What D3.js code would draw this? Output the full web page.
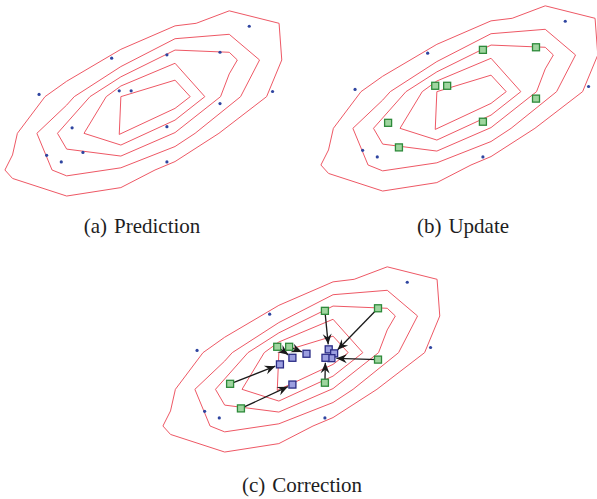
<!DOCTYPE html>
<html>
<head>
<meta charset="utf-8">
<script src="https://cdn.jsdelivr.net/npm/d3@7"></script>
<style>
  html, body { margin: 0; padding: 0; background: #fff; }
  svg { display: block; }
</style>
</head>
<body>
<svg id="fig" width="597" height="499"></svg>
<script>
// Density contour rings (state space coordinates)
const contour1 = [[4,4.34],[4.92,4],[4.97,3],[4.69,2],[3.81,1],[3,0.23],[2.63,0],[2,-0.48],[1,-0.71],[0,-0.23],[-0.14,0],[0,0.41],[0.09,1],[0.6,2],[1,2.42],[2,3.29],[3,3.93],[3.39,4]];
const contour2 = [[4,3.7],[4.56,3],[4.21,2],[3.37,1],[3,0.64],[2,0.06],[1,-0.16],[0.73,0],[0.45,1],[1,1.77],[1.14,2],[2,2.82],[3,3.58]];
const contour3 = [[3,3.27],[4,3.21],[4.15,3],[4,2.62],[3.84,2],[3,1.02],[2,0.38],[1,0.57],[0.83,1],[1.43,2],[2,2.54]];
const contour4 = [[3,2.91],[3.55,2],[3,1.36],[2,0.68],[1.32,1],[1.73,2],[2,2.29]];
const contour5 = [[3,2.45],[3.28,2],[3,1.68],[1.97,0.97],[2,2]];
const contours = [contour1, contour2, contour3, contour4, contour5];

// Predicted particles
const particleX = [0.49,1.83,1.97,2.19,1.10,0.63,0.90,1.30,2.85,3.83,4.37,4.80,3.83,2.85,2.85];
const particleY = [2.06,3.05,2.16,2.16,1.15,0.40,0.22,0.48,3.14,3.21,3.92,2.14,1.81,1.18,0.22];
// Particles picked by the measurement update
const selected  = [0,0,1,1,1,0,0,1,1,1,0,0,1,1,0];
// Corrected positions of the picked particles (same order as picked indices)
const correctedX = [2.25,2.51,2.02,2.25,2.92,3.02,2.97,2.86];
const correctedY = [1.86,1.97,1.68,1.13,2.09,1.98,1.85,1.86];

const captions = [["(a)", "Prediction"], ["(b)", "Update"], ["(c)", "Correction"]];

const svg = d3.select("#fig");
const x = d3.scaleLinear().domain([0, 5]).range([12.5, 283.4]);
const y = d3.scaleLinear().domain([0, 4]).range([170, 23.3]);

const line = d3.line().x(d => x(d[0])).y(d => y(d[1])).curve(d3.curveLinearClosed);

svg.append("defs").append("marker")
  .attr("id", "head")
  .attr("viewBox", "-11 -5 12 10")
  .attr("refX", 0).attr("refY", 0)
  .attr("markerWidth", 12).attr("markerHeight", 10)
  .attr("markerUnits", "userSpaceOnUse")
  .attr("orient", "auto")
  .append("path")
  .attr("d", "M0,0 L-10.5,-4.5 L-7,0 L-10.5,4.5 Z")
  .attr("fill", "#1a1a1a");

const particles = particleX.map((px, i) => ({x: px, y: particleY[i], sel: selected[i] === 1}));
const picked = particles.filter(p => p.sel);
const moves = picked.map((p, i) => ({from: p, to: {x: correctedX[i], y: correctedY[i]}}));

const panels = [
  {dx: 0, dy: 0, mode: "a", cx: 142, cy: 233},
  {dx: 316, dy: -5, mode: "b", cx: 463, cy: 233},
  {dx: 158, dy: 256, mode: "c", cx: 302, cy: 492}
];

const SQ = 7;

function squares(g, data, fill, stroke) {
  g.selectAll(null).data(data).enter().append("rect")
    .attr("x", d => x(d.x) - SQ / 2)
    .attr("y", d => y(d.y) - SQ / 2)
    .attr("width", SQ).attr("height", SQ)
    .attr("fill", fill)
    .attr("stroke", stroke)
    .attr("stroke-width", 1.3);
}

panels.forEach((p, k) => {
  const g = svg.append("g").attr("transform", `translate(${p.dx},${p.dy})`);

  g.selectAll("path.c").data(contours).enter().append("path")
    .attr("d", line)
    .attr("fill", "none")
    .attr("stroke", "#ee5865")
    .attr("stroke-width", 1)
    .attr("stroke-linejoin", "round");

  const dots = p.mode === "a" ? particles : particles.filter(d => !d.sel);
  g.selectAll("circle").data(dots).enter().append("circle")
    .attr("cx", d => x(d.x)).attr("cy", d => y(d.y))
    .attr("r", 1.6)
    .attr("fill", "#2f45a0");

  if (p.mode === "c") {
    g.selectAll("line").data(moves).enter().append("line")
      .each(function(d) {
        const x0 = x(d.from.x), y0 = y(d.from.y);
        const x1 = x(d.to.x), y1 = y(d.to.y);
        const len = Math.hypot(x1 - x0, y1 - y0);
        const back = Math.min(len, 5);
        d3.select(this)
          .attr("x1", x0).attr("y1", y0)
          .attr("x2", x1 - (x1 - x0) / len * back)
          .attr("y2", y1 - (y1 - y0) / len * back);
      })
      .attr("stroke", "#1a1a1a")
      .attr("stroke-width", 1.3)
      .attr("marker-end", "url(#head)");
  }

  if (p.mode !== "a") squares(g, picked, "#9fd59f", "#2d8a3a");
  if (p.mode === "c") squares(g, moves.map(m => m.to), "#9c9fe0", "#2b2c86");

  const t = svg.append("text")
    .attr("x", p.cx).attr("y", p.cy)
    .attr("text-anchor", "middle")
    .attr("font-family", "'Liberation Serif', 'Times New Roman', serif")
    .attr("font-size", 21)
    .attr("fill", "#1e1e1e");
  t.append("tspan").text(captions[k][0]);
  t.append("tspan").attr("dx", 7).text(captions[k][1]);
});
</script>
</body>
</html>
